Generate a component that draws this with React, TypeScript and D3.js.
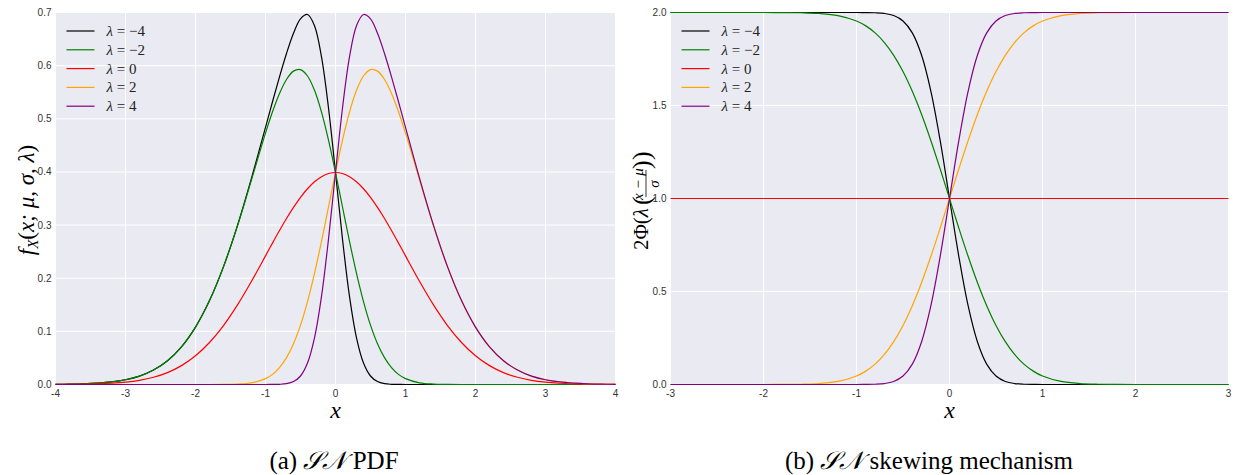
import * as d3 from 'd3';

// left panel: skew-normal pdf (finer steps near the peaks)
const xPdf = [
  -4, -3.8, -3.6, -3.4, -3.2, -3, -2.8, -2.6, -2.4, -2.2, -2, -1.8, -1.6, -1.4, -1.2, -1,
  -0.9, -0.8, -0.7, -0.6, -0.5, -0.4, -0.3, -0.2, -0.1, 0, 0.1, 0.2, 0.3, 0.4, 0.5, 0.6, 0.7, 0.8, 0.9,
  1, 1.2, 1.4, 1.6, 1.8, 2, 2.2, 2.4, 2.6, 2.8, 3, 3.2, 3.4, 3.6, 3.8, 4,
];
const pdfM4 = [
  0.0003, 0.0006, 0.0012, 0.0025, 0.0048, 0.0089, 0.0158, 0.0272, 0.0448, 0.0709, 0.108, 0.1579, 0.2218, 0.2995, 0.3884, 0.4839,
  0.5321, 0.579, 0.6229, 0.661, 0.6881, 0.6962, 0.675, 0.6163, 0.5203, 0.3989, 0.2736, 0.1657, 0.0878, 0.0404, 0.016, 0.0055, 0.0016, 0.0004, 0.0001,
  0, 0, 0, 0, 0, 0, 0, 0, 0, 0, 0, 0, 0, 0, 0, 0,
];
const pdfM2 = [
  0.0003, 0.0006, 0.0012, 0.0025, 0.0048, 0.0089, 0.0158, 0.0272, 0.0448, 0.0709, 0.108, 0.1579, 0.2217, 0.2987, 0.3852, 0.4729,
  0.5131, 0.5476, 0.574, 0.5897, 0.5924, 0.5805, 0.5536, 0.5126, 0.4599, 0.3989, 0.334, 0.2695, 0.2092, 0.1561, 0.1117, 0.0767, 0.0505, 0.0318, 0.0191,
  0.011, 0.0032, 0.0008, 0.0002, 0, 0, 0, 0, 0, 0, 0, 0, 0, 0, 0, 0,
];
const pdf0 = [
  0.0001, 0.0003, 0.0006, 0.0012, 0.0024, 0.0044, 0.0079, 0.0136, 0.0224, 0.0355, 0.054, 0.079, 0.1109, 0.1497, 0.1942, 0.242,
  0.2661, 0.2897, 0.3123, 0.3332, 0.3521, 0.3683, 0.3814, 0.391, 0.397, 0.3989, 0.397, 0.391, 0.3814, 0.3683, 0.3521, 0.3332, 0.3123, 0.2897, 0.2661,
  0.242, 0.1942, 0.1497, 0.1109, 0.079, 0.054, 0.0355, 0.0224, 0.0136, 0.0079, 0.0044, 0.0024, 0.0012, 0.0006, 0.0003, 0.0001,
];
const pdf2 = [
  0, 0, 0, 0, 0, 0, 0, 0, 0, 0, 0, 0, 0.0002, 0.0008, 0.0032, 0.011,
  0.0191, 0.0318, 0.0505, 0.0767, 0.1117, 0.1561, 0.2092, 0.2695, 0.334, 0.3989, 0.4599, 0.5126, 0.5536, 0.5805, 0.5924, 0.5897, 0.574, 0.5476, 0.5131,
  0.4729, 0.3852, 0.2987, 0.2217, 0.1579, 0.108, 0.0709, 0.0448, 0.0272, 0.0158, 0.0089, 0.0048, 0.0025, 0.0012, 0.0006, 0.0003,
];
const pdf4 = [
  0, 0, 0, 0, 0, 0, 0, 0, 0, 0, 0, 0, 0, 0, 0, 0,
  0.0001, 0.0004, 0.0016, 0.0055, 0.016, 0.0404, 0.0878, 0.1657, 0.2736, 0.3989, 0.5203, 0.6163, 0.675, 0.6962, 0.6881, 0.661, 0.6229, 0.579, 0.5321,
  0.4839, 0.3884, 0.2995, 0.2218, 0.1579, 0.108, 0.0709, 0.0448, 0.0272, 0.0158, 0.0089, 0.0048, 0.0025, 0.0012, 0.0006, 0.0003,
];

// right panel: skewing factor
const xSkew = [
  -3, -2.8, -2.6, -2.4, -2.2, -2, -1.8, -1.6, -1.4, -1.2, -1,
  -0.9, -0.8, -0.7, -0.6, -0.5, -0.4, -0.3, -0.2, -0.1, 0, 0.1, 0.2, 0.3, 0.4, 0.5, 0.6, 0.7, 0.8, 0.9,
  1, 1.2, 1.4, 1.6, 1.8, 2, 2.2, 2.4, 2.6, 2.8, 3,
];
const skewM4 = [
  2, 2, 2, 2, 2, 2, 2, 2, 2, 2, 1.9999,
  1.9997, 1.9986, 1.9949, 1.9836, 1.9545, 1.8904, 1.7699, 1.5762, 1.3108, 1, 0.6892, 0.4238, 0.2301, 0.1096, 0.0455, 0.0164, 0.0051, 0.0014, 0.0003,
  0.0001, 0, 0, 0, 0, 0, 0, 0, 0, 0, 0,
];
const skewM2 = [
  2, 2, 2, 2, 2, 1.9999, 1.9997, 1.9986, 1.9949, 1.9836, 1.9545,
  1.9281, 1.8904, 1.8385, 1.7699, 1.6827, 1.5762, 1.4515, 1.3108, 1.1585, 1, 0.8415, 0.6892, 0.5485, 0.4238, 0.3173, 0.2301, 0.1615, 0.1096, 0.0719,
  0.0455, 0.0164, 0.0051, 0.0014, 0.0003, 0.0001, 0, 0, 0, 0, 0,
];
const skew0 = [
  1, 1, 1, 1, 1, 1, 1, 1, 1, 1, 1,
  1, 1, 1, 1, 1, 1, 1, 1, 1, 1, 1, 1, 1, 1, 1, 1, 1, 1, 1,
  1, 1, 1, 1, 1, 1, 1, 1, 1, 1, 1,
];
const skew2 = [
  0, 0, 0, 0, 0, 0.0001, 0.0003, 0.0014, 0.0051, 0.0164, 0.0455,
  0.0719, 0.1096, 0.1615, 0.2301, 0.3173, 0.4238, 0.5485, 0.6892, 0.8415, 1, 1.1585, 1.3108, 1.4515, 1.5762, 1.6827, 1.7699, 1.8385, 1.8904, 1.9281,
  1.9545, 1.9836, 1.9949, 1.9986, 1.9997, 1.9999, 2, 2, 2, 2, 2,
];
const skew4 = [
  0, 0, 0, 0, 0, 0, 0, 0, 0, 0, 0.0001,
  0.0003, 0.0014, 0.0051, 0.0164, 0.0455, 0.1096, 0.2301, 0.4238, 0.6892, 1, 1.3108, 1.5762, 1.7699, 1.8904, 1.9545, 1.9836, 1.9949, 1.9986, 1.9997,
  1.9999, 2, 2, 2, 2, 2, 2, 2, 2, 2, 2,
];

const lambdas = ['\u22124', '\u22122', '0', '2', '4'];
const colors = ['#000000', '#008000', '#ff0000', '#ffa500', '#800080'];

const pdfTicksX = [-4, -3, -2, -1, 0, 1, 2, 3, 4];
const pdfTicksY = [0, 0.1, 0.2, 0.3, 0.4, 0.5, 0.6, 0.7];
const skewTicksX = [-3, -2, -1, 0, 1, 2, 3];
const skewTicksY = [0, 0.5, 1, 1.5, 2];

const TOP = 12.5;
const BOTTOM = 384.5;
const serif = '"Liberation Serif", "DejaVu Serif", serif';
const sans = '"Liberation Sans", Arial, sans-serif';

function Panel({ left, right, xs, ys, xTicks, yTicks }) {
  const x = d3.scaleLinear().domain([xTicks[0], xTicks[xTicks.length - 1]]).range([left, right]);
  const y = d3.scaleLinear().domain([yTicks[0], yTicks[yTicks.length - 1]]).range([BOTTOM, TOP]);
  const line = d3.line<number>()
    .x((d, i) => x(xs[i]))
    .y(d => y(d))
    .curve(d3.curveCatmullRom.alpha(0.5));

  return (
    <g>
      <rect x={left} y={TOP} width={right - left} height={BOTTOM - TOP} fill="#eaeaf2" />
      {xTicks.map(t => (
        <line key={'gx' + t} x1={x(t)} x2={x(t)} y1={TOP} y2={BOTTOM} stroke="#fff" strokeWidth={1} />
      ))}
      {yTicks.map(t => (
        <line key={'gy' + t} x1={left} x2={right} y1={y(t)} y2={y(t)} stroke="#fff" strokeWidth={1} />
      ))}
      {ys.map((s, i) => (
        <path key={i} d={line(s)} fill="none" stroke={colors[i]} strokeWidth={1.2} />
      ))}
      {xTicks.map(t => (
        <text key={'tx' + t} x={x(t)} y={397} textAnchor="middle" fontFamily={sans} fontSize={10} fill="#333">
          {t < 0 ? '-' + Math.abs(t) : t}
        </text>
      ))}
      {yTicks.map(t => (
        <text key={'ty' + t} x={left - 4} y={y(t) + 3.5} textAnchor="end" fontFamily={sans} fontSize={10} fill="#333">
          {t.toFixed(1)}
        </text>
      ))}
      <text x={(left + right) / 2} y={418} textAnchor="middle" fontFamily={serif} fontStyle="italic" fontSize={24}>x</text>
      {lambdas.map((l, i) => (
        <g key={'lg' + i} transform={`translate(${left + 11},${31 + i * 18.8})`}>
          <line x1={0} x2={28} y1={0} y2={0} stroke={colors[i]} strokeWidth={1.2} />
          <text x={40} y={5} fontFamily={serif} fontSize={15} fill="#222">
            <tspan fontStyle="italic">λ</tspan>
            <tspan> = {l}</tspan>
          </text>
        </g>
      ))}
    </g>
  );
}

export default function App() {
  return (
    <svg width={1235} height={475} style={{ position: 'absolute', left: 0, top: 0, background: '#fff' }}>
      <Panel left={55.5} right={615.5} xs={xPdf} ys={[pdfM4, pdfM2, pdf0, pdf2, pdf4]} xTicks={pdfTicksX} yTicks={pdfTicksY} />
      <Panel left={670.5} right={1228.5} xs={xSkew} ys={[skewM4, skewM2, skew0, skew2, skew4]} xTicks={skewTicksX} yTicks={skewTicksY} />

      <text transform="translate(34,200) rotate(-90)" textAnchor="middle" fontFamily={serif} fontSize={23} fontStyle="italic">
        f<tspan dy={4} fontSize={15}>X</tspan>
        <tspan dy={-4} fontStyle="normal">(</tspan>x; μ, σ, λ<tspan fontStyle="normal">)</tspan>
      </text>

      <g transform="translate(648,198) rotate(-90)" fontFamily={serif}>
        <text x={-52} y={0} fontSize={21}>2Φ(<tspan fontStyle="italic">λ</tspan></text>
        <text x={-7} y={2} fontSize={26}>(</text>
        <text x={14} y={-5} fontSize={15} textAnchor="middle" fontStyle="italic">x − μ</text>
        <line x1={1} x2={28} y1={-2} y2={-2} stroke="#000" strokeWidth={0.8} />
        <text x={14} y={11} fontSize={15} textAnchor="middle" fontStyle="italic">σ</text>
        <text x={29} y={2} fontSize={26}>)</text>
        <text x={38} y={2} fontSize={26}>)</text>
      </g>

      <text x={334} y={469} textAnchor="middle" fontFamily={serif} fontSize={25}>
        (a) <tspan fontStyle="italic">𝒮𝒩</tspan> PDF
      </text>
      <text x={929} y={469} textAnchor="middle" fontFamily={serif} fontSize={25}>
        (b) <tspan fontStyle="italic">𝒮𝒩</tspan> skewing mechanism
      </text>
    </svg>
  );
}
